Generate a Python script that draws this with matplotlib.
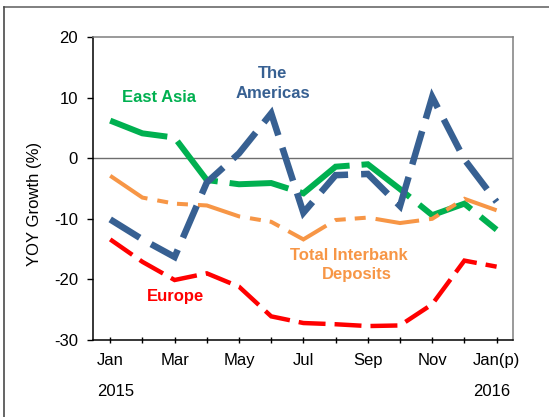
import matplotlib
matplotlib.use("Agg")
import matplotlib.pyplot as plt
from matplotlib.lines import Line2D

plt.rcParams["font.family"] = ["Liberation Sans", "DejaVu Sans"]
plt.rcParams["lines.scale_dashes"] = False

# Monthly YOY growth of interbank deposits (%), Jan 2015 - Jan 2016 (p)
months = ["Jan", "Feb", "Mar", "Apr", "May", "Jun", "Jul",
          "Aug", "Sep", "Oct", "Nov", "Dec", "Jan(p)"]
tick_labels = ["Jan", "", "Mar", "", "May", "", "Jul",
               "", "Sep", "", "Nov", "", "Jan(p)"]
east_asia = [6.2, 4.1, 3.4, -3.6, -4.3, -4.1, -5.8, -1.4, -1.0, -5.1, -9.4, -7.5, -11.8]
americas = [-10.1, -13.4, -16.3, -4.0, 0.8, 7.4, -9.0, -2.8, -2.6, -7.9, 10.1, -0.2, -7.2]
total_interbank = [-2.9, -6.5, -7.5, -7.8, -9.6, -10.5, -13.4, -10.2, -9.8, -10.7, -10.0, -6.7, -8.6]
europe = [-13.4, -17.1, -20.1, -19.0, -21.2, -26.1, -27.2, -27.4, -27.7, -27.6, -24.1, -16.9, -17.9]

C_GREEN = "#00B050"
C_BLUE = "#376092"
C_ORANGE = "#F79646"
C_RED = "#FF0000"

fig = plt.figure(figsize=(5.49, 4.17), dpi=100)
ax = fig.add_axes([92.5 / 549, 1 - 340 / 417, (512.7 - 92.5) / 549, (340 - 37) / 417])

x = list(range(len(months)))

ax.axhline(0, color="#6e6e6e", lw=1.0, zorder=1)

ax.plot(x, east_asia, color=C_GREEN, lw=4.3, dashes=(43, 8.6),
        dash_capstyle="butt", solid_joinstyle="miter", dash_joinstyle="miter", zorder=2)
ax.plot(x, total_interbank, color=C_ORANGE, lw=2.9, dashes=(31.7, 7.2, 7.9, 6.5, 7.9, 7.2),
        dash_capstyle="butt", dash_joinstyle="miter", zorder=3)
ax.plot(x, americas, color=C_BLUE, lw=4.7, dashes=(25, 9.4),
        dash_capstyle="butt", dash_joinstyle="miter", zorder=4)
ax.plot(x, europe, color=C_RED, lw=3.2, dashes=(19.4, 6.5),
        dash_capstyle="butt", dash_joinstyle="miter", zorder=5)

ax.set_xlim(-0.55, 12.5)
ax.set_ylim(-30, 20)
ax.set_yticks([-30, -20, -10, 0, 10, 20])
ax.set_yticklabels(["-30", "-20", "-10", "0", "10", "20"])
ax.set_xticks(x)
ax.set_xticklabels(tick_labels)

ax.tick_params(axis="y", direction="out", length=4, width=1, pad=6.5, labelsize=12, colors="black")
ax.tick_params(axis="x", direction="inout", length=5, width=1, pad=7, labelsize=12, colors="black")

for side in ("left", "bottom"):
    ax.spines[side].set_color("black")
    ax.spines[side].set_linewidth(1.1)
for side in ("top", "right"):
    ax.spines[side].set_color("#7f7f7f")
    ax.spines[side].set_linewidth(1.1)

# Year labels under the month axis
fig.text(96.7 / 549, 1 - 391 / 417, "2015", ha="left", va="center", fontsize=12)
fig.text(472.7 / 549, 1 - 391 / 417, "2016", ha="left", va="center", fontsize=12)

fig.text(35 / 549, 1 - 204 / 417, "YOY Growth (%)", rotation=90,
         ha="center", va="center", fontsize=12)

# Series annotations
fig.text(159 / 549, 1 - 98 / 417, "East Asia", color=C_GREEN, fontsize=12,
         fontweight="bold", ha="center", va="center")
fig.text(273 / 549, 1 - 74 / 417, "The", color=C_BLUE, fontsize=12,
         fontweight="bold", ha="center", va="center")
fig.text(272.5 / 549, 1 - 94 / 417, "Americas", color=C_BLUE, fontsize=12,
         fontweight="bold", ha="center", va="center")
fig.text(349 / 549, 1 - 255 / 417, "Total Interbank", color=C_ORANGE, fontsize=12,
         fontweight="bold", ha="center", va="center")
fig.text(357 / 549, 1 - 275 / 417, "Deposits", color=C_ORANGE, fontsize=12,
         fontweight="bold", ha="center", va="center")
fig.text(176 / 549, 1 - 296 / 417, "Europe", color=C_RED, fontsize=12,
         fontweight="bold", ha="center", va="center")

# Outer frame (top and left edges)
fig.add_artist(Line2D([4 / 549, 1.0], [1 - 6.5 / 417, 1 - 6.5 / 417],
                      transform=fig.transFigure, color="#6a6a6a", lw=1.2))
fig.add_artist(Line2D([4 / 549, 4 / 549], [0.0, 1 - 6.5 / 417],
                      transform=fig.transFigure, color="#4a4a4a", lw=1.2))

fig.savefig("out.png", dpi=100)
